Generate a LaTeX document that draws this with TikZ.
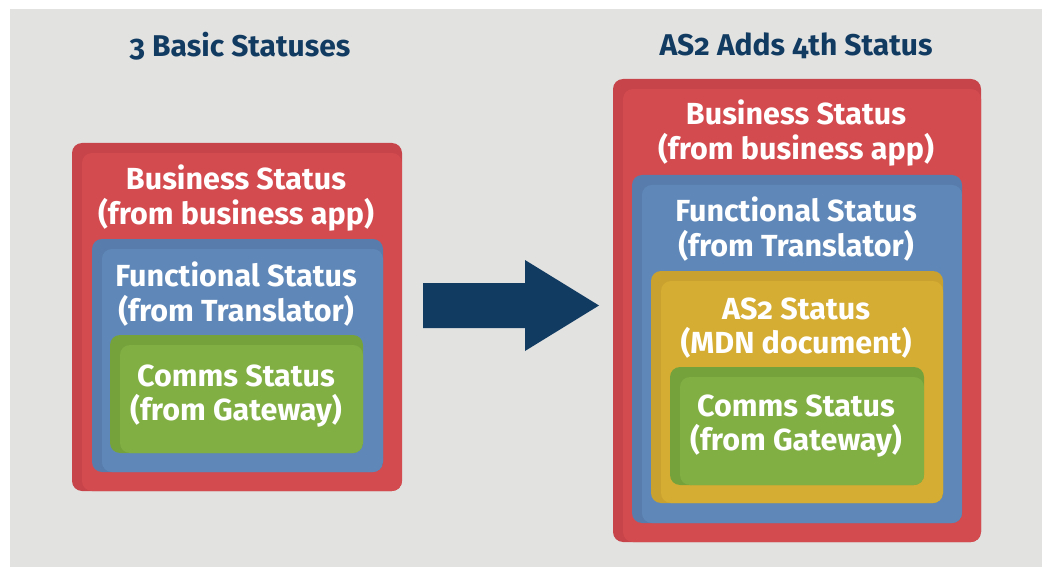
\documentclass[tikz,border=0pt]{standalone}
\usepackage{fontspec}
\setmainfont[Numbers=OldStyle]{Fira Sans}
\usepackage{tikz}
\usetikzlibrary{positioning}

\definecolor{bggray}{HTML}{E2E2E0}
\definecolor{navy}{HTML}{123B62}
\definecolor{redface}{HTML}{D44B4F}
\definecolor{redband}{HTML}{C6444A}
\definecolor{blueface}{HTML}{5F88B9}
\definecolor{blueband}{HTML}{587DAC}
\definecolor{yellowface}{HTML}{D5AD33}
\definecolor{yellowband}{HTML}{C9A12E}
\definecolor{greenface}{HTML}{82AF44}
\definecolor{greenband}{HTML}{76A23C}

\tikzset{
  layer/.style 2 args={rounded corners=10pt, fill=#1, inner sep=0pt,
    path picture={\fill[#2] ([xshift=10pt,yshift=-10pt]path picture bounding box.north west)
      rectangle (path picture bounding box.south east);}},
  label/.style={text=white, font=\bfseries\fontsize{30.5}{34.5}\selectfont, align=center},
  title/.style={text=navy, font=\bfseries\fontsize{30}{34}\selectfont}
}

\begin{document}
\begin{tikzpicture}[x=1pt, y=-1pt]
            % Background
            \fill[white] (0,0) rectangle (1042,567);
            \fill[bggray] (10,9) rectangle (1042,567);
            \useasboundingbox (0,0) rectangle (1042,567);
            % Titles
            \node[title] (basicTitle) at (240,46) {3 Basic Statuses};
            \node[title] (as2Title) at (796,46) {AS2 Adds 4th Status};
            % Left stack
            \node[layer={redband}{redface}, minimum width=330pt, minimum height=348pt] (lBusiness) at (237,317) {};
            \node[layer={blueband}{blueface}, minimum width=291pt, minimum height=233pt] (lFunctional) at (237.5,355.5) {};
            \node[layer={greenband}{greenface}, minimum width=253pt, minimum height=118pt] (lComms) at (236.5,394) {};
            \node[label] (lBusinessText) at (236,198) {Business Status\\(from business app)};
            \node[label] (lFunctionalText) at (236,294) {Functional Status\\(from Translator)};
            \node[label] (lCommsText) at (236,396) {Comms Status\\(from Gateway)};
            % Arrow
            \fill[navy] (423,283) -- (525,283) -- (525,260) -- (599,305.5)
              -- (525,351) -- (525,328) -- (423,328) -- cycle;
            % Right stack
            \node[layer={redband}{redface}, minimum width=368pt, minimum height=463pt] (rBusiness) at (797,310.5) {};
            \node[layer={blueband}{blueface}, minimum width=330pt, minimum height=348pt] (rFunctional) at (797,349) {};
            \node[layer={yellowband}{yellowface}, minimum width=292pt, minimum height=232pt] (rAS2) at (797,387) {};
            \node[layer={greenband}{greenface}, minimum width=254pt, minimum height=118pt] (rComms) at (797,426) {};
            \node[label] (rBusinessText) at (796,133) {Business Status\\(from business app)};
            \node[label] (rFunctionalText) at (796,229) {Functional Status\\(from Translator)};
            \node[label] (rAS2Text) at (796,328) {AS2 Status\\(MDN document)};
            \node[label] (rCommsText) at (796,426) {Comms Status\\(from Gateway)};
\end{tikzpicture}
\end{document}
